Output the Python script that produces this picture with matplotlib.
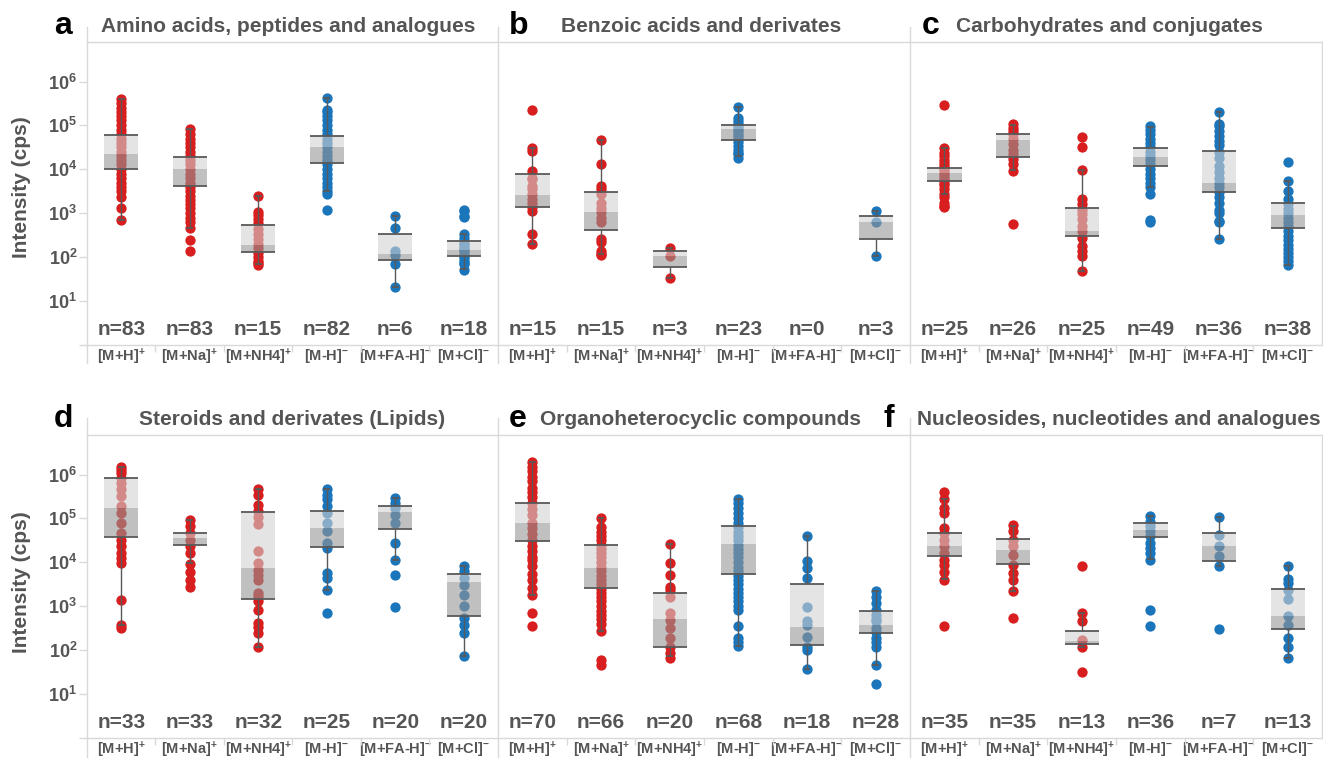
import matplotlib
matplotlib.use("Agg")
import matplotlib.pyplot as plt
from matplotlib.lines import Line2D
from matplotlib.ticker import NullLocator

plt.rcParams['font.family'] = ['Liberation Sans', 'DejaVu Sans']
plt.rcParams['mathtext.fontset'] = 'custom'
plt.rcParams['mathtext.rm'] = 'Liberation Sans'
plt.rcParams['mathtext.bf'] = 'Liberation Sans:bold'
plt.rcParams['mathtext.it'] = 'Liberation Sans:italic'

# 加合物類別 (前三個為正離子, 後三個為負離子)
adducts = ['[M+H]$^\\mathbf{+}$', '[M+Na]$^\\mathbf{+}$', '[M+NH4]$^\\mathbf{+}$',
           '[M-H]$^\\mathbf{-}$', '[M+FA-H]$^\\mathbf{-}$', '[M+Cl]$^\\mathbf{-}$']
ytick_vals = [1, 1e1, 1e2, 1e3, 1e4, 1e5, 1e6]
ytick_labels = ['', '10$^\\mathbf{1}$', '10$^\\mathbf{2}$', '10$^\\mathbf{3}$',
                '10$^\\mathbf{4}$', '10$^\\mathbf{5}$', '10$^\\mathbf{6}$']

letters = ['a', 'b', 'c', 'd', 'e', 'f']
titles = ['Amino acids, peptides and analogues', 'Benzoic acids and derivates',
          'Carbohydrates and conjugates', 'Steroids and derivates (Lipids)',
          'Organoheterocyclic compounds', 'Nucleosides, nucleotides and analogues']

# box 欄位: (whisker low, Q1, median, Q3, whisker high)
a_n = [83, 83, 15, 82, 6, 18]
a_pts = [
    [4.1e5, 3.2e5, 2.5e5, 2.0e5, 1.6e5, 1.3e5, 1.0e5, 7.9e4, 6.3e4, 5.0e4, 4.0e4, 3.2e4, 2.5e4,
     2.0e4, 1.6e4, 1.3e4, 1.0e4, 7.9e3, 6.3e3, 5.0e3, 4.0e3, 3.2e3, 2.3e3, 1.3e3, 7.1e2],
    [8.3e4, 6.3e4, 5.0e4, 4.0e4, 3.2e4, 2.5e4, 2.0e4, 1.6e4, 1.3e4, 1.0e4, 7.9e3, 6.3e3, 5.0e3,
     4.0e3, 3.2e3, 2.5e3, 2.0e3, 1.6e3, 1.3e3, 1.0e3, 7.9e2, 6.3e2, 4.7e2, 2.5e2, 1.35e2],
    [2.5e3, 1.05e3, 9.0e2, 7.5e2, 6.0e2, 4.4e2, 3.3e2, 2.6e2, 2.0e2, 1.66e2, 1.27e2, 1.0e2, 83, 72, 65],
    [4.3e5, 2.3e5, 2.0e5, 1.6e5, 1.3e5, 1.0e5, 7.9e4, 6.3e4, 5.0e4, 4.0e4, 3.2e4, 2.5e4, 2.0e4,
     1.6e4, 1.3e4, 1.0e4, 7.9e3, 6.3e3, 5.0e3, 4.0e3, 3.2e3, 2.8e3, 1.2e3],
    [8.7e2, 4.5e2, 1.35e2, 1.1e2, 69, 21],
    [1.2e3, 1.1e3, 8.7e2, 8.2e2, 3.3e2, 2.8e2, 2.1e2, 1.9e2, 1.66e2, 1.5e2, 1.35e2, 1.2e2,
     1.07e2, 95, 83, 75, 69, 51],
]
a_box = [(7.1e2, 1.04e4, 2.2e4, 6.0e4, 4.1e5), (4.7e2, 4.1e3, 1.0e4, 1.96e4, 8.3e4),
         (69, 1.28e2, 1.9e2, 5.4e2, 2.5e3), (3.2e3, 1.4e4, 3.2e4, 5.8e4, 4.3e5),
         (21, 84, 1.17e2, 3.4e2, 8.7e2), (53, 1.04e2, 1.48e2, 2.3e2, 3.3e2)]

b_n = [15, 15, 3, 23, 0, 3]
b_pts = [
    [2.2e5, 3.0e4, 2.6e4, 9.1e3, 6.5e3, 5.9e3, 4.2e3, 3.5e3, 2.7e3, 2.1e3, 1.7e3, 1.4e3, 1.1e3, 3.3e2, 2.0e2],
    [4.6e4, 1.35e4, 4.2e3, 3.5e3, 2.7e3, 1.7e3, 1.3e3, 1.07e3, 8.0e2, 6.3e2, 2.6e2, 2.2e2, 1.35e2, 1.2e2, 1.1e2],
    [1.66e2, 1.04e2, 34],
    [2.6e5, 1.5e5, 1.25e5, 1.1e5, 9.6e4, 8.5e4, 7.4e4, 6.5e4, 5.8e4, 5.0e4, 4.1e4, 3.4e4, 2.8e4,
     2.4e4, 2.2e4, 1.85e4],
    [],
    [1.1e3, 6.2e2, 1.07e2],
]
b_box = [(2.0e2, 1.4e3, 2.6e3, 7.9e3, 3.0e4), (1.2e2, 4.2e2, 1.07e3, 3.1e3, 4.6e4),
         (34, 61, 1.07e2, 1.38e2, 1.66e2), (2.0e4, 4.7e4, 8.5e4, 1.0e5, 2.6e5),
         None, (1.07e2, 2.6e2, 6.3e2, 8.7e2, 1.1e3)]

c_n = [25, 26, 25, 49, 36, 38]
c_pts = [
    [2.9e5, 3.0e4, 2.4e4, 2.0e4, 1.6e4, 1.4e4, 1.2e4, 1.1e4, 9.5e3, 8.4e3, 7.5e3, 6.5e3, 5.8e3,
     5.0e3, 4.5e3, 3.5e3, 2.8e3, 2.3e3, 1.75e3, 1.5e3, 1.4e3],
    [1.1e5, 8.9e4, 7.5e4, 6.3e4, 4.8e4, 3.7e4, 2.8e4, 2.2e4, 1.7e4, 1.3e4, 9.1e3, 5.6e2],
    [5.5e4, 3.3e4, 9.6e3, 2.1e3, 1.6e3, 1.2e3, 9.6e2, 7.3e2, 5.1e2, 4.0e2, 2.8e2, 1.8e2, 1.4e2, 1.07e2, 49],
    [9.6e4, 8.0e4, 6.3e4, 5.0e4, 4.0e4, 3.2e4, 2.5e4, 2.0e4, 1.6e4, 1.3e4, 1.0e4, 7.9e3, 6.3e3,
     5.0e3, 3.9e3, 2.7e3, 7.1e2, 6.3e2],
    [2.0e5, 1.1e5, 9.6e4, 7.4e4, 5.8e4, 4.5e4, 3.5e4, 2.5e4, 1.8e4, 1.2e4, 8.5e3, 6.5e3, 5.0e3,
     4.0e3, 3.0e3, 2.3e3, 1.7e3, 1.2e3, 1.0e3, 6.8e2, 6.3e2, 2.6e2],
    [1.5e4, 5.4e3, 3.2e3, 2.1e3, 1.6e3, 1.25e3, 1.0e3, 8.0e2, 6.3e2, 5.0e2, 4.0e2, 3.1e2, 2.4e2,
     1.85e2, 1.5e2, 1.25e2, 1.0e2, 80, 67],
]
c_box = [(2.8e3, 5.4e3, 8.2e3, 1.1e4, 3.0e4), (9.6e3, 1.9e4, 4.7e4, 6.5e4, 1.05e5),
         (49, 3.0e2, 4.0e2, 1.35e3, 9.6e3), (3.9e3, 1.2e4, 1.9e4, 3.1e4, 9.1e4),
         (2.6e2, 3.0e3, 5.0e3, 2.6e4, 2.0e5), (67, 4.7e2, 9.0e2, 1.75e3, 5.3e3)]

d_n = [33, 33, 32, 25, 20, 20]
d_pts = [
    [1.5e6, 1.3e6, 1.1e6, 8.5e5, 6.3e5, 4.8e5, 3.2e5, 1.9e5, 1.3e5, 7.9e4, 4.7e4, 3.3e4, 2.3e4,
     1.6e4, 1.25e4, 9.6e3, 1.4e3, 3.8e2, 3.2e2],
    [9.3e4, 6.6e4, 4.7e4, 3.3e4, 2.3e4, 1.6e4, 9.1e3, 5.9e3, 4.0e3, 2.8e3],
    [4.6e5, 3.5e5, 2.0e5, 1.5e5, 1.1e5, 7.6e4, 1.8e4, 9.6e3, 6.8e3, 5.2e3, 4.0e3, 2.0e3, 1.7e3,
     1.3e3, 8.3e2, 4.1e2, 3.4e2, 2.4e2, 1.2e2],
    [4.6e5, 3.5e5, 2.7e5, 1.9e5, 1.3e5, 7.9e4, 5.1e4, 2.8e4, 2.1e4, 5.6e3, 4.4e3, 2.4e3, 6.9e2],
    [2.9e5, 2.2e5, 1.7e5, 1.2e5, 7.9e4, 2.8e4, 1.15e4, 5.2e3, 9.8e2],
    [8.1e3, 6.2e3, 4.4e3, 3.1e3, 1.8e3, 1.02e3, 5.4e2, 3.8e2, 2.5e2, 74],
]
d_box = [(3.8e2, 3.8e4, 1.74e5, 8.3e5, 1.5e6), (9.6e3, 2.5e4, 3.6e4, 4.7e4, 9.3e4),
         (1.2e2, 1.5e3, 7.4e3, 1.4e5, 4.6e5), (2.4e3, 2.2e4, 5.9e4, 1.45e5, 4.6e5),
         (1.15e4, 5.8e4, 1.4e5, 1.9e5, 2.9e5), (74, 5.9e2, 3.5e3, 5.4e3, 8.1e3)]

e_n = [70, 66, 20, 68, 18, 28]
e_pts = [
    [1.9e6, 1.5e6, 1.2e6, 9.0e5, 7.0e5, 5.0e5, 4.0e5, 3.0e5, 2.2e5, 1.6e5, 1.2e5, 8.0e4, 6.0e4,
     4.5e4, 3.2e4, 2.4e4, 1.8e4, 1.3e4, 1.15e4, 8.1e3, 5.5e3, 4.0e3, 2.6e3, 1.8e3, 6.9e2, 3.6e2],
    [1.0e5, 6.3e4, 5.0e4, 4.0e4, 3.2e4, 2.5e4, 2.0e4, 1.6e4, 1.3e4, 1.0e4, 7.9e3, 6.3e3, 5.0e3,
     4.0e3, 3.2e3, 2.5e3, 2.0e3, 1.6e3, 1.3e3, 1.0e3, 7.9e2, 6.3e2, 5.0e2, 4.0e2, 2.8e2, 60, 46],
    [2.6e4, 9.6e3, 5.2e3, 2.8e3, 2.4e3, 1.6e3, 6.9e2, 4.9e2, 3.2e2, 1.85e2, 1.2e2, 85, 68],
    [2.8e5, 2.2e5, 1.7e5, 1.3e5, 1.0e5, 7.9e4, 6.3e4, 5.0e4, 4.0e4, 3.2e4, 2.5e4, 2.0e4, 1.6e4,
     1.3e4, 1.0e4, 7.9e3, 6.3e3, 5.0e3, 4.0e3, 3.2e3, 2.5e3, 2.0e3, 1.6e3, 1.3e3, 1.0e3, 8.3e2,
     3.5e2, 1.85e2, 1.5e2, 1.25e2],
    [3.9e4, 1.05e4, 7.4e3, 4.4e3, 9.8e2, 4.5e2, 3.8e2, 2.0e2, 1.2e2, 1.0e2, 37],
    [2.2e3, 1.66e3, 1.2e3, 8.3e2, 6.3e2, 5.2e2, 4.5e2, 3.2e2, 2.6e2, 1.85e2, 1.5e2, 1.2e2, 46, 17],
]
e_box = [(1.8e3, 3.1e4, 7.9e4, 2.2e5, 1.9e6), (2.8e2, 2.6e3, 7.6e3, 2.5e4, 1.0e5),
         (74, 1.17e2, 5.1e2, 2.0e3, 2.6e4), (1.25e2, 5.4e3, 2.6e4, 6.9e4, 2.8e5),
         (37, 1.3e2, 3.3e2, 3.2e3, 3.9e4), (46, 2.5e2, 3.8e2, 7.9e2, 2.2e3)]

f_n = [35, 35, 13, 36, 7, 13]
f_pts = [
    [4.0e5, 2.7e5, 1.7e5, 1.3e5, 6.0e4, 4.7e4, 3.3e4, 2.3e4, 1.6e4, 1.15e4, 8.9e3, 5.9e3, 4.0e3, 3.5e2],
    [7.2e4, 5.1e4, 3.3e4, 2.3e4, 1.5e4, 8.9e3, 5.8e3, 4.0e3, 2.2e3, 5.5e2],
    [8.3e3, 7.2e2, 4.5e2, 1.7e2, 1.2e2, 32],
    [1.15e5, 8.5e4, 6.6e4, 5.1e4, 3.9e4, 2.8e4, 2.1e4, 1.6e4, 1.15e4, 8.3e2, 3.5e2],
    [1.07e5, 4.1e4, 2.3e4, 1.4e4, 8.3e3, 3.0e2],
    [8.1e3, 4.2e3, 3.4e3, 2.3e3, 1.5e3, 5.9e2, 3.8e2, 1.85e2, 1.2e2, 65],
]
f_box = [(4.2e3, 1.4e4, 2.3e4, 4.7e4, 2.7e5), (2.2e3, 9.3e3, 1.9e4, 3.4e4, 6.9e4),
         (1.2e2, 1.35e2, 1.6e2, 2.8e2, 7.2e2), (1.2e4, 3.8e4, 5.4e4, 7.9e4, 1.15e5),
         (8.3e3, 1.1e4, 2.3e4, 4.7e4, 1.07e5), (65, 3.0e2, 6.0e2, 2.5e3, 8.1e3)]

panel_pts = [a_pts, b_pts, c_pts, d_pts, e_pts, f_pts]
panel_box = [a_box, b_box, c_box, d_box, e_box, f_box]
panel_n = [a_n, b_n, c_n, d_n, e_n, f_n]

RED = '#d81e1e'
BLUE = '#1b75bb'
GRID = '#d9d9d9'
TXT = '#555555'

W, H = 1323, 758
col_x = [(87, 498), (498, 910), (910, 1322)]
row_y = [(42, 345), (435, 738)]
title_x = [288, 701, 1109, 292, 700, 1119]
letter_x = [63, 519, 931, 63, 518, 889]
base_y = [32, 425]


def draw_panel(ax, pts, box, counts):
    for i in range(6):
        col = RED if i < 3 else BLUE
        if pts[i]:
            ax.scatter([i] * len(pts[i]), pts[i], s=55, color=col, linewidths=0, zorder=2)
        if box[i] is not None:
            lo, q1, med, q3, hi = box[i]
            ax.bar(i, q3 - med, bottom=med, width=0.5, color='#d2d2d2', alpha=0.6, lw=0, zorder=3)
            ax.bar(i, med - q1, bottom=q1, width=0.5, color='#969696', alpha=0.6, lw=0, zorder=3)
            ax.hlines([q1, q3], i - 0.25, i + 0.25, color='#595959', lw=1.3, zorder=4)
            ax.vlines(i, q3, hi, color='#595959', lw=1.0, zorder=4)
            ax.vlines(i, lo, q1, color='#595959', lw=1.0, zorder=4)
            ax.hlines([lo, hi], i - 0.05, i + 0.05, color='#595959', lw=1.3, zorder=4)
        ax.text(i, 0.05, f'n={counts[i]}', transform=ax.get_xaxis_transform(),
                ha='center', va='center', fontsize=15, fontweight='bold', color=TXT)


fig = plt.figure(figsize=(W / 100, H / 100), dpi=100)

for k in range(6):
    r, c = divmod(k, 3)
    x0, x1 = col_x[c]
    y0, y1 = row_y[r]
    ax = fig.add_axes([x0 / W, 1 - y1 / H, (x1 - x0) / W, (y1 - y0) / H])
    ax.set_yscale('log')
    ax.set_ylim(1, 10 ** 6.9)
    ax.set_xlim(-0.5, 5.5)
    draw_panel(ax, panel_pts[k], panel_box[k], panel_n[k])

    for side in ['top', 'bottom', 'right', 'left']:
        ax.spines[side].set_color(GRID)
        ax.spines[side].set_linewidth(1)
    ax.spines['left'].set_visible(False)
    ax.spines['right'].set_visible(c == 2)

    ax.set_xticks(range(6), adducts, fontweight='bold', fontsize=10.5, color=TXT)
    ax.set_xticks([0.5, 1.5, 2.5, 3.5, 4.5], minor=True)
    ax.tick_params(axis='x', which='major', length=0, pad=1.5)
    ax.tick_params(axis='x', which='minor', length=5, width=1, color=GRID)

    ax.yaxis.set_minor_locator(NullLocator())
    if c == 0:
        ax.set_yticks(ytick_vals, ytick_labels, fontweight='bold', fontsize=13, color=TXT)
        ax.tick_params(axis='y', length=6, width=1, color=GRID, pad=1)
    else:
        ax.set_yticks([])

    # 面板左側邊線 (延伸至標題區與類別標籤區)
    ytop, ybot = (27, 363) if r == 0 else (418, 757)
    fig.add_artist(Line2D([x0 / W, x0 / W], [1 - ytop / H, 1 - ybot / H],
                          transform=fig.transFigure, color=GRID, lw=1))

    fig.text(title_x[k] / W, 1 - base_y[r] / H, titles[k], ha='center', va='baseline',
             fontsize=15, fontweight='bold', color=TXT)
    fig.text(letter_x[k] / W, 1 - (base_y[r] + 2) / H, letters[k], ha='center', va='baseline',
             fontsize=23, fontweight='bold', color='black')

fig.text(22 / W, 1 - 187 / H, 'Intensity (cps)', rotation=90, ha='center', va='center',
         fontsize=15, fontweight='bold', color=TXT)
fig.text(22 / W, 1 - 582 / H, 'Intensity (cps)', rotation=90, ha='center', va='center',
         fontsize=15, fontweight='bold', color=TXT)

fig.savefig('out.png', dpi=100)
